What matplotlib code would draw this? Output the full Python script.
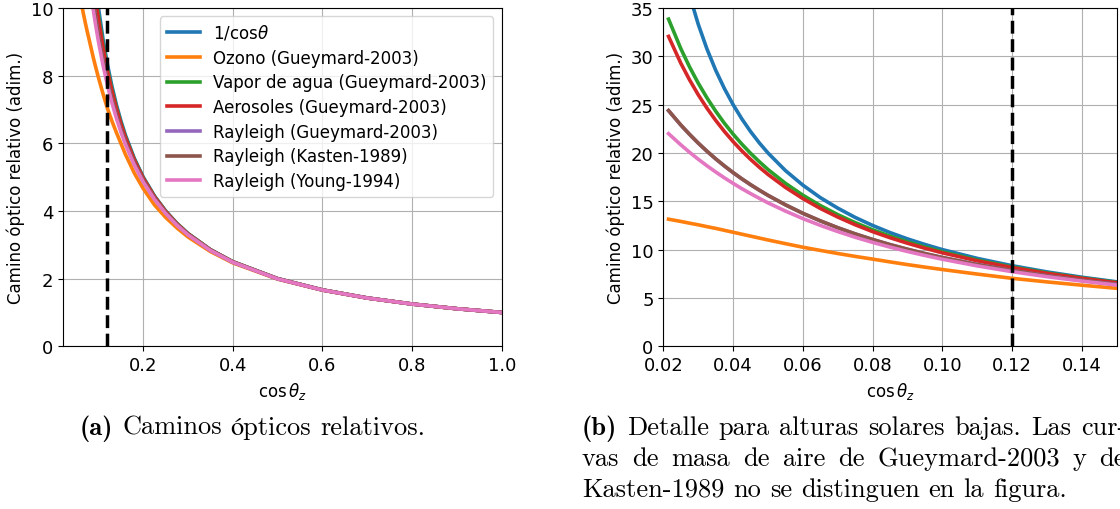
import matplotlib
matplotlib.use("Agg")
import matplotlib.pyplot as plt

plt.rcParams['font.family'] = ['DejaVu Sans']
plt.rcParams['mathtext.fontset'] = 'dejavusans'

# ---------------- data ----------------
cos_z = [0.0215, 0.025, 0.0275, 0.03, 0.0325, 0.035, 0.0375, 0.04, 0.0425, 0.045,
         0.0475, 0.05, 0.055, 0.06, 0.065, 0.07, 0.075, 0.08, 0.085, 0.09,
         0.095, 0.10, 0.11, 0.12, 0.13, 0.14, 0.15, 0.16, 0.18, 0.2,
         0.225, 0.25, 0.275, 0.3, 0.35, 0.4, 0.5, 0.6, 0.7, 0.8, 0.9, 1.0]

inv_cos = [46.51, 40.0, 36.36, 33.33, 30.77, 28.57, 26.67, 25.0, 23.53, 22.22,
           21.05, 20.0, 18.18, 16.67, 15.38, 14.29, 13.33, 12.5, 11.76, 11.11,
           10.53, 10.0, 9.091, 8.333, 7.692, 7.143, 6.667, 6.25, 5.556, 5.0,
           4.444, 4.0, 3.636, 3.333, 2.857, 2.5, 2.0, 1.667, 1.429, 1.25, 1.111, 1.0]

ozono = [13.15, 12.92, 12.74, 12.57, 12.38, 12.2, 12.0, 11.8, 11.6, 11.4,
         11.2, 11.0, 10.62, 10.25, 9.92, 9.6, 9.3, 9.02, 8.73, 8.45,
         8.19, 7.94, 7.47, 7.03, 6.66, 6.32, 6.0, 5.68, 5.12, 4.66,
         4.18, 3.81, 3.50, 3.23, 2.80, 2.465, 1.985, 1.660, 1.4254, 1.2485, 1.1105, 1.0]

vapor = [33.85, 30.81, 28.92, 27.23, 25.71, 24.33, 23.08, 21.95, 20.92, 19.97,
         19.10, 18.29, 16.86, 15.63, 14.56, 13.62, 12.79, 12.05, 11.39, 10.80,
         10.26, 9.772, 8.922, 8.205, 7.594, 7.066, 6.605, 6.200, 5.522, 4.977,
         4.429, 3.990, 3.629, 3.328, 2.854, 2.498, 1.9992, 1.6663, 1.4284, 1.2499, 1.1110, 1.0]

aerosoles = [32.06, 29.30, 27.58, 26.03, 24.64, 23.38, 22.23, 21.18, 20.22, 19.34,
             18.53, 17.78, 16.44, 15.28, 14.26, 13.37, 12.57, 11.86, 11.23, 10.66,
             10.14, 9.667, 8.840, 8.141, 7.542, 7.024, 6.571, 6.173, 5.503, 4.963,
             4.420, 3.983, 3.624, 3.324, 2.852, 2.497, 1.9987, 1.6660, 1.4281, 1.2497, 1.1109, 1.0]

rayleigh_gueymard = [24.38, 22.89, 21.93, 21.02, 20.18, 19.39, 18.65, 17.96, 17.32, 16.71,
                     16.15, 15.61, 14.63, 13.75, 12.97, 12.26, 11.625, 11.04, 10.517, 10.03,
                     9.590, 9.183, 8.458, 7.835, 7.294, 6.820, 6.402, 6.031, 5.401, 4.888,
                     4.367, 3.944, 3.595, 3.302, 2.839, 2.488, 1.9946, 1.6639, 1.4272, 1.2493, 1.1107, 1.0]

rayleigh_kasten = [24.39, 22.91, 21.94, 21.03, 20.19, 19.40, 18.67, 17.98, 17.33, 16.73,
                   16.16, 15.62, 14.64, 13.76, 12.98, 12.27, 11.63, 11.05, 10.517, 10.04,
                   9.592, 9.184, 8.459, 7.835, 7.294, 6.820, 6.401, 6.030, 5.400, 4.887,
                   4.366, 3.943, 3.5945, 3.302, 2.838, 2.488, 1.9943, 1.6637, 1.4271, 1.2492, 1.1106, 0.9997]

rayleigh_young = [22.00, 20.85, 20.08, 19.36, 18.68, 18.04, 17.43, 16.86, 16.31, 15.80,
                  15.31, 14.84, 13.99, 13.21, 12.51, 11.87, 11.28, 10.75, 10.258, 9.806,
                  9.390, 9.005, 8.317, 7.720, 7.200, 6.742, 6.336, 5.974, 5.359, 4.855,
                  4.342, 3.925, 3.580, 3.290, 2.831, 2.483, 1.9917, 1.6625, 1.4265, 1.2489, 1.1104, 1.0]

labels = ['1/cos$\\theta$', 'Ozono (Gueymard-2003)', 'Vapor de agua (Gueymard-2003)',
          'Aerosoles (Gueymard-2003)', 'Rayleigh (Gueymard-2003)',
          'Rayleigh (Kasten-1989)', 'Rayleigh (Young-1994)']
colors = ['#1f77b4', '#ff7f0e', '#2ca02c', '#d62728', '#9467bd', '#8c564b', '#e377c2']
cos_limite = 0.12

left_xticks = [0.2, 0.4, 0.6, 0.8, 1.0]
left_yticks = [0, 2, 4, 6, 8, 10]
right_xticks = [0.02, 0.04, 0.06, 0.08, 0.10, 0.12, 0.14]
right_yticks = [0, 5, 10, 15, 20, 25, 30, 35]

ylabel = 'Camino óptico relativo (adim.)'
xlabel = r'$\cos\theta_z$'

# ---------------- figure ----------------
W, H = 1120, 510
fig = plt.figure(figsize=(11.2, 5.1), dpi=100)
ax1 = fig.add_axes([63.3 / W, 1 - 347.3 / H, (501.7 - 63.3) / W, (347.3 - 9) / H])
ax2 = fig.add_axes([663.3 / W, 1 - 347.3 / H, (1117 - 663.3) / W, (347.3 - 9) / H])

all_series = [inv_cos, ozono, vapor, aerosoles, rayleigh_gueymard, rayleigh_kasten, rayleigh_young]

for ax in (ax1, ax2):
    for vals, lab, col in zip(all_series, labels, colors):
        ax.plot(cos_z, vals, color=col, lw=2.6, label=lab)
    ax.axvline(cos_limite, color='k', ls='--', lw=2.5)
    ax.grid(True, color='#b0b0b0', lw=0.8)
    ax.set_xlabel(xlabel, fontsize=12)
    ax.set_ylabel(ylabel, fontsize=12)
    ax.tick_params(labelsize=13)

ax1.set_xlim(0.0215, 1.0)
ax1.set_ylim(0, 10)
ax1.set_xticks(left_xticks)
ax1.set_yticks(left_yticks)
ax1.legend(loc='upper right', fontsize=12, labelspacing=0.4)

ax2.set_xlim(0.02, 0.15)
ax2.set_ylim(0, 35)
ax2.set_xticks(right_xticks)
ax2.set_yticks(right_yticks)

# ---------------- captions ----------------
FS = 19
renderer = fig.canvas.get_renderer()
REG = ['cmr10', 'STIXGeneral', 'DejaVu Serif']
BOLD = ['cmb10', 'STIXGeneral', 'DejaVu Serif']


def place_line(words, x0, y, x1=None):
    texts = []
    for w, bold in words:
        t = fig.text(0, 1 - y / H, w, family=BOLD if bold else REG,
                     fontsize=FS, va='baseline', ha='left')
        texts.append(t)
    widths = [t.get_window_extent(renderer).width for t in texts]
    gap = 0.333 * FS * 100 / 72
    if x1 is not None:
        gap = max(gap * 0.8, (x1 - x0 - sum(widths)) / (len(words) - 1))
    x = x0
    for t, wd in zip(texts, widths):
        t.set_x(x / W)
        x += wd + gap


def words_of(s, first_bold=False):
    ws = s.split(' ')
    return [(w, first_bold and i == 0) for i, w in enumerate(ws)]


place_line(words_of('(a) Caminos ópticos relativos.', True), 80, 435)
place_line(words_of('(b) Detalle para alturas solares bajas. Las cur-', True), 582, 435, 1126)
place_line(words_of('vas de masa de aire de Gueymard-2003 y de'), 582, 466, 1126)
place_line(words_of('Kasten-1989 no se distinguen en la figura.'), 582, 497)

fig.savefig('out.png', dpi=100)
